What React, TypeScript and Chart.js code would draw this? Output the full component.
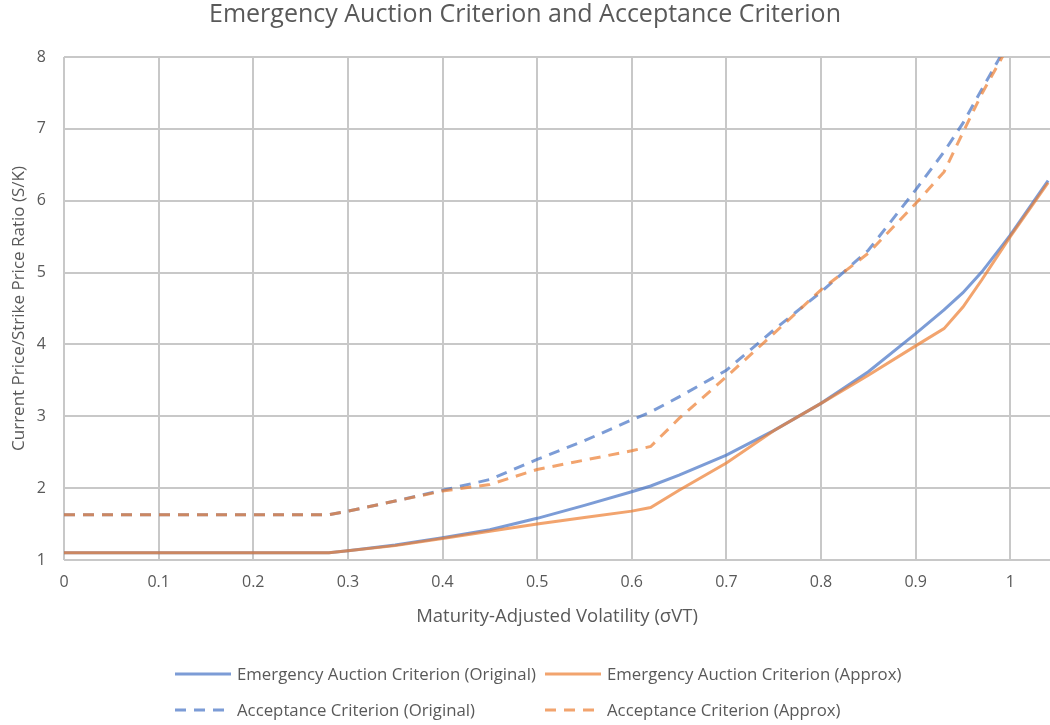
import React, { useEffect, useRef } from "react";
import { Chart, registerables } from "chart.js";

Chart.register(...registerables);

const FONT = "'Open Sans', Lato, sans-serif";
const TEXT_COLOR = "#595959";
const GRID_COLOR = "#c8c8c8";
const BLUE = "rgba(68,114,196,0.7)";
const ORANGE = "rgba(237,125,49,0.7)";

const chartTitle = "Emergency Auction Criterion and Acceptance Criterion";
const xAxisTitle = "Maturity-Adjusted Volatility (σVT)";
const yAxisTitle = "Current Price/Strike Price Ratio (S/K)";

const xTicks = [0, 0.1, 0.2, 0.3, 0.4, 0.5, 0.6, 0.7, 0.8, 0.9, 1.0];
const yTicks = [1, 2, 3, 4, 5, 6, 7, 8];

const xValues = [0, 0.28, 0.3, 0.35, 0.4, 0.45, 0.5, 0.55, 0.6, 0.62, 0.65, 0.7, 0.75, 0.8, 0.85, 0.9, 0.93, 0.95, 0.97, 1.0, 1.04];
const emergencyOriginal = [1.1, 1.1, 1.13, 1.21, 1.31, 1.42, 1.58, 1.76, 1.95, 2.03, 2.18, 2.46, 2.8, 3.18, 3.62, 4.15, 4.48, 4.72, 5.01, 5.52, 6.28];
const emergencyApprox = [1.1, 1.1, 1.13, 1.2, 1.3, 1.4, 1.5, 1.59, 1.68, 1.73, 1.97, 2.35, 2.8, 3.18, 3.57, 3.98, 4.22, 4.52, 4.9, 5.5, 6.25];
const acceptanceOriginal = [1.63, 1.63, 1.68, 1.82, 1.97, 2.12, 2.4, 2.66, 2.95, 3.06, 3.27, 3.64, 4.2, 4.73, 5.31, 6.15, 6.68, 7.08, 7.55, 8.25, 9.2];
const acceptanceApprox = [1.63, 1.63, 1.68, 1.82, 1.96, 2.05, 2.26, 2.39, 2.52, 2.58, 2.97, 3.55, 4.15, 4.76, 5.27, 5.96, 6.4, 6.95, 7.49, 8.2, 9.1];

const seriesLabels = [
  "Emergency Auction Criterion (Original)",
  "Emergency Auction Criterion (Approx)",
  "Acceptance Criterion (Original)",
  "Acceptance Criterion (Approx)",
];
const seriesValues = [emergencyOriginal, emergencyApprox, acceptanceOriginal, acceptanceApprox];
const seriesColors = [BLUE, ORANGE, BLUE, ORANGE];
const seriesDashed = [false, false, true, true];
const seriesOrder = [1, 0, 1, 0];
const DASH = [11, 8];

function LegendItem({ i, left, top }: { i: number; left: number; top: number }) {
  return (
    <div style={{ position: "absolute", left, top, height: 20, display: "flex", alignItems: "center", whiteSpace: "nowrap" }}>
      <svg width={56} height={6} style={{ display: "block", marginRight: 6 }}>
        <line x1={0} y1={3} x2={56} y2={3} stroke={seriesColors[i]} strokeWidth={3}
          strokeDasharray={seriesDashed[i] ? DASH.join(",") : undefined} />
      </svg>
      <span style={{ fontFamily: FONT, fontSize: 16.8, color: TEXT_COLOR, lineHeight: "20px" }}>{seriesLabels[i]}</span>
    </div>
  );
}

export default function App() {
  const ref = useRef<HTMLCanvasElement>(null);
  useEffect(() => {
    document.body.style.margin = "0";
    const datasets = seriesValues.map((vals, i) => ({
      label: seriesLabels[i],
      data: xValues.map((x, j) => ({ x, y: vals[j] })),
      borderColor: seriesColors[i],
      backgroundColor: seriesColors[i],
      borderWidth: 3,
      borderDash: seriesDashed[i] ? DASH : [],
      pointRadius: 0,
      tension: 0,
      fill: false,
      clip: 0,
      order: seriesOrder[i],
    }));
    const chart = new Chart(ref.current as HTMLCanvasElement, {
      type: "line",
      data: { datasets },
      options: {
        responsive: false,
        animation: false,
        layout: { padding: 0 },
        plugins: {
          legend: { display: false },
          tooltip: { enabled: false },
          title: {
            display: true,
            text: chartTitle,
            color: TEXT_COLOR,
            font: { family: FONT, size: 25, weight: "normal" },
            padding: { top: 0, bottom: 27 },
          },
        },
        scales: {
          x: {
            type: "linear",
            min: 0,
            max: 1.042,
            afterBuildTicks: (axis: any) => {
              axis.ticks = xTicks.map((v) => ({ value: v }));
            },
            afterFit: (scale: any) => {
              scale.height = 165;
            },
            grid: { color: GRID_COLOR, lineWidth: 2, drawTicks: false },
            border: { display: false },
            ticks: {
              padding: 13,
              color: TEXT_COLOR,
              font: { family: FONT, size: 16 },
              callback: (v: any) => String(Number(Number(v).toFixed(1))),
            },
            title: {
              display: true,
              text: xAxisTitle,
              color: TEXT_COLOR,
              font: { family: FONT, size: 18.5 },
              padding: { top: 0, bottom: 97 },
            },
          },
          y: {
            type: "linear",
            min: 1,
            max: 8,
            afterBuildTicks: (axis: any) => {
              axis.ticks = yTicks.map((v) => ({ value: v }));
            },
            afterFit: (scale: any) => {
              scale.width = 64;
            },
            grid: { color: GRID_COLOR, lineWidth: 2, drawTicks: false },
            border: { display: false },
            ticks: {
              padding: 18,
              color: TEXT_COLOR,
              font: { family: FONT, size: 16 },
            },
            title: {
              display: true,
              text: yAxisTitle,
              color: TEXT_COLOR,
              font: { family: FONT, size: 17 },
              padding: { top: 9, bottom: 0 },
            },
          },
        },
      } as any,
    });
    return () => chart.destroy();
  }, []);

  return (
    <div style={{ position: "relative", width: 1050, height: 725, overflow: "hidden", background: "#fff" }}>
      <canvas ref={ref} width={1050} height={725} style={{ display: "block", width: 1050, height: 725 }} />
      <LegendItem i={0} left={175} top={664} />
      <LegendItem i={1} left={545} top={664} />
      <LegendItem i={2} left={175} top={700} />
      <LegendItem i={3} left={545} top={700} />
    </div>
  );
}
